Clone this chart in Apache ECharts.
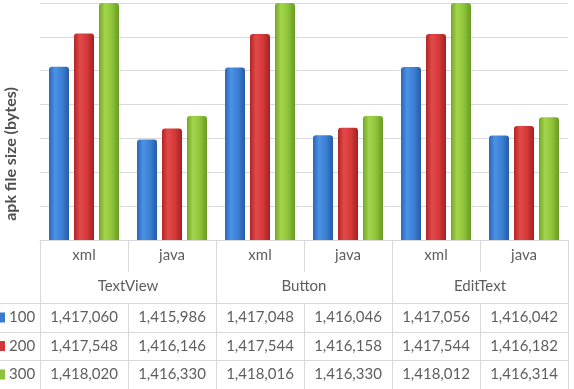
<!DOCTYPE html>
<html>
<head>
<meta charset="utf-8">
<script src="https://cdn.jsdelivr.net/npm/echarts@6/dist/echarts.min.js"></script>
<style>html,body{margin:0;padding:0;background:#fff;}#c{width:574px;height:389px;}</style>
</head>
<body>
<div id="c"></div>
<script>
const categories = ['xml', 'java', 'xml', 'java', 'xml', 'java'];
const groups = ['TextView', 'Button', 'EditText'];
const seriesNames = ['100', '200', '300'];
const s100 = [1417060, 1415986, 1417048, 1416046, 1417056, 1416042];
const s200 = [1417548, 1416146, 1417544, 1416158, 1417544, 1416182];
const s300 = [1418020, 1416330, 1418016, 1416330, 1418012, 1416314];
const yTitle = 'apk file size (bytes)';

const FONT = 'Lato';
const TXT = '#5e5e5e';
const LINE = '#d9d9d9';
const keyColors = ['#3a7bd0', '#d23838', '#8cc23c'];

function grad(c0, c1, c2, c3) {
  return new echarts.graphic.LinearGradient(0, 0, 1, 0, [
    {offset: 0, color: c0}, {offset: 0.3, color: c1}, {offset: 0.65, color: c2}, {offset: 1, color: c3}
  ]);
}
const barFills = [
  grad('#2c66b8', '#4d92e4', '#3b7fd4', '#285ba6'),
  grad('#b32424', '#e24a4a', '#d43838', '#a52020'),
  grad('#73a626', '#a4d64a', '#8fc33a', '#6a9a22')
];

const chart = echarts.init(document.getElementById('c'), null, {renderer: 'canvas'});
const allSeries = [s100, s200, s300];

chart.setOption({
  animation: false,
  backgroundColor: '#fff',
  grid: {left: 40, right: 6, top: 3, bottom: 149, containLabel: false},
  xAxis: {
    type: 'category',
    data: categories,
    axisLine: {show: true, lineStyle: {color: LINE, width: 1}},
    axisTick: {show: false},
    axisLabel: {show: false}
  },
  yAxis: {
    type: 'value',
    min: 1414500,
    max: 1418000,
    interval: 500,
    axisLine: {show: false},
    axisTick: {show: false},
    axisLabel: {show: false},
    splitLine: {show: true, lineStyle: {color: LINE, width: 1}}
  },
  series: allSeries.map((d, i) => ({
    name: seriesNames[i],
    type: 'bar',
    data: d,
    barWidth: 20,
    barGap: '25%',
    clip: true,
    itemStyle: {color: barFills[i], borderRadius: [3, 3, 0, 0]}
  }))
});

(function () {
  // Data table below the plot, positioned from the category axis scale
  const px = i => chart.convertToPixel({xAxisIndex: 0}, i);
  const band = px(1) - px(0);
  const tLeft = px(0) - band / 2;
  const tRight = px(categories.length - 1) + band / 2;
  const tTop = chart.convertToPixel({yAxisIndex: 0}, 1414500);
  const rowY = [tTop, tTop + 32, tTop + 63, tTop + 92, tTop + 120, tTop + 149];

  const els = [];
  function line(x1, y1, x2, y2) {
    els.push({type: 'line', shape: {x1, y1, x2, y2}, style: {stroke: LINE, lineWidth: 1}, silent: true});
  }
  function text(t, x, y, align, opts) {
    els.push({type: 'text', x, y, silent: true,
      style: Object.assign({text: t, fill: TXT, font: '15px ' + FONT, align: align || 'center', verticalAlign: 'middle'}, opts || {})});
  }

  for (let r = 2; r <= 5; r++) line(0, Math.round(rowY[r]) + 0.5, tRight, Math.round(rowY[r]) + 0.5);
  for (let i = 0; i <= categories.length; i++) {
    const x = Math.round(tLeft + band * i) + 0.5;
    if (i % 2 === 0) {
      line(x, rowY[0], x, rowY[5]);
    } else {
      line(x, rowY[0], x, rowY[1]);
      line(x, rowY[2], x, rowY[5]);
    }
  }
  categories.forEach((c, i) => text(c, px(i), (rowY[0] + rowY[1]) / 2 - 1));
  groups.forEach((g, j) => text(g, (px(2 * j) + px(2 * j + 1)) / 2, (rowY[1] + rowY[2]) / 2 - 1));
  const fmt = v => v.toLocaleString('en-US');
  allSeries.forEach((d, r) => {
    const cy = (rowY[2 + r] + rowY[3 + r]) / 2;
    els.push({type: 'rect', shape: {x: -4, y: cy - 5, width: 9, height: 10}, style: {fill: keyColors[r]}, silent: true});
    text(seriesNames[r], 9, cy, 'left');
    d.forEach((v, i) => text(fmt(v), px(i), cy));
  });
  els.push({type: 'text', x: 11, y: 154, rotation: Math.PI / 2, silent: true,
    style: {text: yTitle, fill: '#505050', font: 'bold 16px ' + FONT, align: 'center', verticalAlign: 'middle'}});

  chart.setOption({graphic: {elements: els}});
})();
</script>
</body>
</html>
